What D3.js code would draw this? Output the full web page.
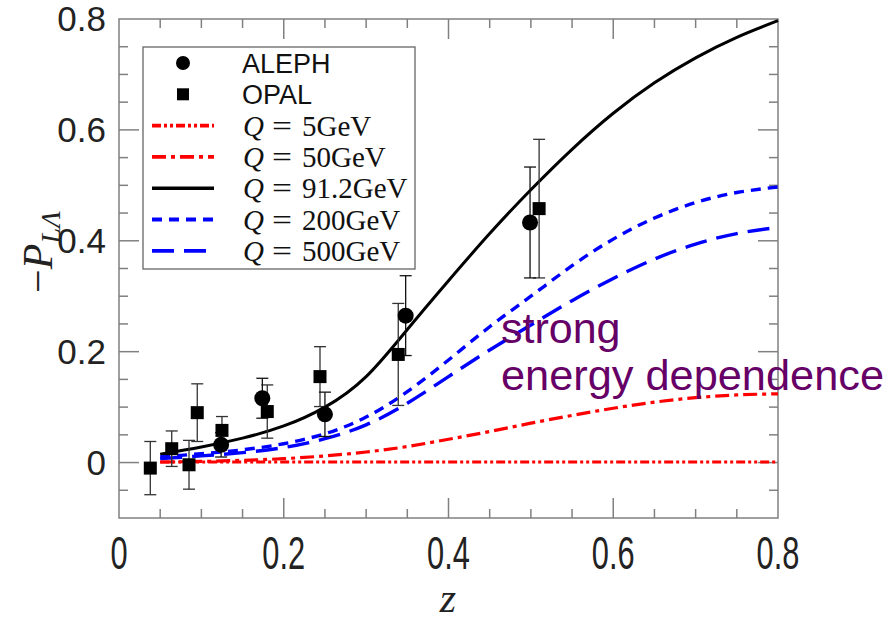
<!DOCTYPE html>
<html>
<head>
<meta charset="utf-8">
<script src="https://cdnjs.cloudflare.com/ajax/libs/d3/7.8.5/d3.min.js"></script>
<style>
  body { margin: 0; background: #fff; }
  svg { display: block; }
</style>
</head>
<body>
<div id="chart"></div>
<script>
// model curves, sampled on a common z grid
const zGrid = [0.05, 0.1, 0.15, 0.2, 0.25, 0.3, 0.35, 0.4, 0.45, 0.5, 0.55, 0.6, 0.65, 0.7, 0.75, 0.8];
const q5    = [0.001, 0.001, 0.001, 0.001, 0.001, 0.001, 0.001, 0.001, 0.001, 0.001, 0.001, 0.001, 0.001, 0.001, 0.001, 0.001];
const q50   = [0.001, 0.002, 0.004, 0.007, 0.012, 0.019, 0.029, 0.042, 0.056, 0.071, 0.085, 0.098, 0.109, 0.117, 0.122, 0.124];
const q912  = [0.015, 0.028, 0.044, 0.066, 0.1, 0.155, 0.24, 0.328, 0.413, 0.492, 0.565, 0.63, 0.685, 0.73, 0.767, 0.797];
const q200  = [0.01, 0.016, 0.023, 0.034, 0.052, 0.082, 0.128, 0.185, 0.245, 0.30, 0.355, 0.403, 0.441, 0.469, 0.487, 0.497];
const q500  = [0.007, 0.012, 0.018, 0.027, 0.043, 0.068, 0.107, 0.155, 0.203, 0.248, 0.292, 0.332, 0.367, 0.394, 0.413, 0.424];

// data points
const alephZ   = [0.124, 0.174, 0.25, 0.348, 0.499];
const alephP   = [0.032, 0.116, 0.087, 0.265, 0.433];
const alephErr = [0.022, 0.036, 0.04, 0.072, 0.1];
const opalZ    = [0.038, 0.064, 0.085, 0.095, 0.125, 0.18, 0.244, 0.339, 0.51];
const opalP    = [-0.01, 0.025, -0.004, 0.09, 0.058, 0.092, 0.155, 0.195, 0.458];
const opalErr  = [0.048, 0.032, 0.044, 0.052, 0.025, 0.048, 0.054, 0.092, 0.125];

const xTicks = [0, 0.2, 0.4, 0.6, 0.8];
const yTicks = [0, 0.2, 0.4, 0.6, 0.8];
const legendLabels = ["ALEPH", "OPAL", "5GeV", "50GeV", "91.2GeV", "200GeV", "500GeV"];

const W = 887, H = 622;
const x = d3.scaleLinear().domain([0, 0.8]).range([119, 778]);
const y = d3.scaleLinear().domain([-0.1, 0.8]).range([518, 19]);

const svg = d3.select("#chart").append("svg")
    .attr("width", W).attr("height", H);

const curves = [
    { vals: q5,   color: "#ff0000", dash: "9,3,3,3,3,3", width: 3.2 },
    { vals: q50,  color: "#ff0000", dash: "14,5,4,5", width: 3.2 },
    { vals: q912, color: "#000000", dash: null, width: 3 },
    { vals: q200, color: "#0000ff", dash: "10,7", width: 3.4 },
    { vals: q500, color: "#0000ff", dash: "22,10", width: 3.4 }
];

// frame + ticks
const frameColor = "#808080";
const axis = svg.append("g").attr("stroke", frameColor).attr("stroke-width", 1.5).attr("fill", "none");
axis.append("rect")
    .attr("x", x(0)).attr("y", y(0.8))
    .attr("width", x(0.8) - x(0)).attr("height", y(-0.1) - y(0.8));

const xMinor = d3.range(0.05, 0.8, 0.05);
xMinor.forEach(v => {
    const major = Math.abs(v * 5 - Math.round(v * 5)) < 1e-6;
    const len = major ? 20 : 9;
    axis.append("line").attr("x1", x(v)).attr("x2", x(v)).attr("y1", y(-0.1)).attr("y2", y(-0.1) - len);
    axis.append("line").attr("x1", x(v)).attr("x2", x(v)).attr("y1", y(0.8)).attr("y2", y(0.8) + len);
});
const yMinor = d3.range(-0.05, 0.8, 0.05);
yMinor.forEach(v => {
    const major = Math.abs(v * 5 - Math.round(v * 5)) < 1e-6;
    const len = major ? 20 : 9;
    axis.append("line").attr("y1", y(v)).attr("y2", y(v)).attr("x1", x(0)).attr("x2", x(0) + len);
    axis.append("line").attr("y1", y(v)).attr("y2", y(v)).attr("x1", x(0.8)).attr("x2", x(0.8) - len);
});

// tick labels
svg.append("g").selectAll("text").data(yTicks).enter().append("text")
    .attr("x", 106).attr("y", d => y(d) + 12)
    .attr("text-anchor", "end")
    .style("font-family", "Liberation Sans, Arial, sans-serif")
    .style("font-size", "35px").attr("fill", "#222")
    .text(d => d === 0 ? "0" : d.toFixed(1));

svg.append("g").selectAll("text").data(xTicks).enter().append("text")
    .attr("transform", d => `translate(${x(d)},569) scale(0.88,1.3)`)
    .attr("text-anchor", "middle")
    .style("font-family", "Liberation Sans, Arial, sans-serif")
    .style("font-size", "35px").attr("fill", "#222")
    .text(d => d === 0 ? "0" : d.toFixed(1));

// axis titles
svg.append("text")
    .attr("x", 448).attr("y", 612)
    .attr("text-anchor", "middle")
    .style("font-family", "Liberation Serif, serif")
    .style("font-style", "italic")
    .style("font-size", "42px").attr("fill", "#222")
    .text("z");

const yt = svg.append("text")
    .attr("transform", "translate(52,252) rotate(-90)")
    .attr("text-anchor", "middle")
    .style("font-family", "Liberation Serif, serif")
    .style("font-size", "42px").attr("fill", "#222");
yt.append("tspan").text("\u2212");
yt.append("tspan").style("font-style", "italic").text("P");
yt.append("tspan").attr("dy", 8).style("font-size", "28px").style("font-style", "italic").text("L\u039B");

// curves
const line = d3.line()
    .x((d, i) => x(zGrid[i]))
    .y(d => y(d))
    .curve(d3.curveNatural);

curves.forEach(c => {
    svg.append("path")
        .attr("d", line(c.vals))
        .attr("fill", "none")
        .attr("stroke", c.color)
        .attr("stroke-width", c.width)
        .attr("stroke-dasharray", c.dash);
});

// error bars
function errorBars(zs, ps, es, color) {
    const g = svg.append("g").attr("stroke", color).attr("stroke-width", 1.3);
    zs.forEach((z, i) => {
        const cx = x(z), top = y(ps[i] + es[i]), bot = y(ps[i] - es[i]);
        g.append("line").attr("x1", cx).attr("x2", cx).attr("y1", top).attr("y2", bot);
        g.append("line").attr("x1", cx - 6).attr("x2", cx + 6).attr("y1", top).attr("y2", top);
        g.append("line").attr("x1", cx - 6).attr("x2", cx + 6).attr("y1", bot).attr("y2", bot);
    });
}
errorBars(opalZ, opalP, opalErr, "#333");
errorBars(alephZ, alephP, alephErr, "#111");

svg.append("g").selectAll("rect").data(opalZ).enter().append("rect")
    .attr("x", (d, i) => x(d) - 6.5).attr("y", (d, i) => y(opalP[i]) - 6.5)
    .attr("width", 13).attr("height", 13).attr("fill", "#000");

svg.append("g").selectAll("circle").data(alephZ).enter().append("circle")
    .attr("cx", d => x(d)).attr("cy", (d, i) => y(alephP[i]))
    .attr("r", 8).attr("fill", "#000");

// legend
const lg = svg.append("g");
lg.append("rect").attr("x", 143).attr("y", 47).attr("width", 272).attr("height", 222)
    .attr("fill", "#fff").attr("stroke", "#666").attr("stroke-width", 1.3);
const rowY = d3.range(7).map(i => 63 + i * 31.3);
lg.append("circle").attr("cx", 183).attr("cy", rowY[0]).attr("r", 7).attr("fill", "#000");
lg.append("rect").attr("x", 177).attr("y", rowY[1] - 6).attr("width", 12).attr("height", 12).attr("fill", "#000");
curves.forEach((c, i) => {
    lg.append("line")
        .attr("x1", 152).attr("x2", 214)
        .attr("y1", rowY[i + 2]).attr("y2", rowY[i + 2])
        .attr("stroke", c.color).attr("stroke-width", c.width + 0.4)
        .attr("stroke-dasharray", c.dash);
});
legendLabels.forEach((lab, i) => {
    if (i < 2) {
        lg.append("text").attr("x", 242).attr("y", rowY[i] + 10)
            .style("font-family", "Liberation Sans, Arial, sans-serif")
            .style("font-size", "27px").attr("fill", "#111")
            .text(lab);
    } else {
        const ty = rowY[i] + 10;
        lg.append("text").attr("x", 243).attr("y", ty)
            .style("font-family", "Liberation Serif, serif")
            .style("font-style", "italic")
            .style("font-size", "29px").attr("fill", "#111")
            .text("Q");
        lg.append("text").attr("x", 272).attr("y", ty)
            .style("font-family", "Liberation Serif, serif")
            .style("font-size", "29px").attr("fill", "#111")
            .attr("textLength", 20).attr("lengthAdjust", "spacingAndGlyphs")
            .text("=");
        lg.append("text").attr("x", 302).attr("y", ty)
            .style("font-family", "Liberation Serif, serif")
            .style("font-size", "29px").attr("fill", "#111")
            .text(lab);
    }
});

// annotation
svg.append("text").attr("x", 501).attr("y", 343)
    .style("font-family", "Liberation Sans, Arial, sans-serif")
    .style("font-size", "43px").attr("fill", "#660066")
    .text("strong");
svg.append("text").attr("x", 501).attr("y", 390)
    .style("font-family", "Liberation Sans, Arial, sans-serif")
    .style("font-size", "43px").attr("fill", "#660066")
    .attr("textLength", 383).attr("lengthAdjust", "spacingAndGlyphs")
    .text("energy dependence");
</script>
</body>
</html>
